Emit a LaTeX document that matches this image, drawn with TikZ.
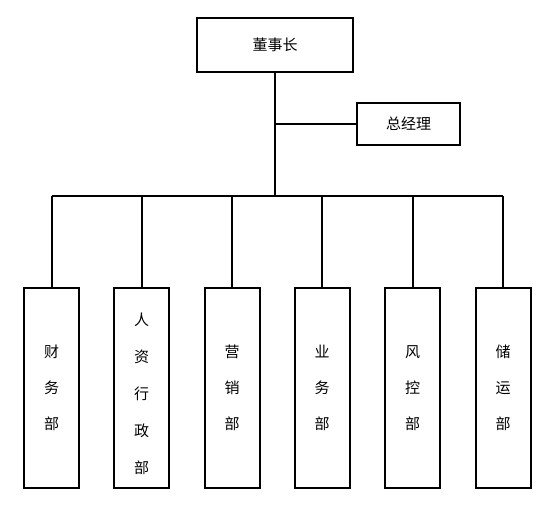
\documentclass[tikz,border=0pt]{standalone}
\usepackage{fontspec}
\usepackage{tikz}
\newfontfamily\cjk{Noto Sans CJK SC}
\tikzset{
  box/.style={draw, line width=2pt, font=\cjk\fontsize{15}{36}\selectfont, align=center, inner sep=0pt},
  dept/.style={box, minimum width=55pt, minimum height=200pt},
  conn/.style={line width=2pt}
}

\begin{document}
\begin{tikzpicture}[x=1pt, y=-1pt]
	\useasboundingbox (0,0) rectangle (550,509);
	\node [box, minimum width=156pt, minimum height=54pt] (DSZ) at (275,45) {董事长};
	\node [box, minimum width=103pt, minimum height=42pt] (ZJL) at (408.5,123.5) {总经理};
	\coordinate (bus) at (275,196);
	\node [dept] (CW) at (51.5,388) {财\\务\\部};
	\node [dept] (RZ) at (141.5,388) {};
	\node [box, draw=none, font=\cjk\fontsize{15}{37}\selectfont] (RZtext) at (141.5,394) {人\\资\\行\\政\\部};
	\node [dept] (YX) at (232,388) {营\\销\\部};
	\node [dept] (YW) at (322,388) {业\\务\\部};
	\node [dept] (FK) at (412.5,388) {风\\控\\部};
	\node [dept] (CY) at (503,388) {储\\运\\部};
	\draw [conn] (DSZ.south) -- (bus);
	\draw [conn] (DSZ.south |- ZJL.west) -- (ZJL.west);
	\draw [conn] (CW.north |- bus) -- (CY.north |- bus);
	\draw [conn] (CW.north |- bus) -- (CW.north);
	\draw [conn] (RZ.north |- bus) -- (RZ.north);
	\draw [conn] (YX.north |- bus) -- (YX.north);
	\draw [conn] (YW.north |- bus) -- (YW.north);
	\draw [conn] (FK.north |- bus) -- (FK.north);
	\draw [conn] (CY.north |- bus) -- (CY.north);
\end{tikzpicture}
\end{document}
